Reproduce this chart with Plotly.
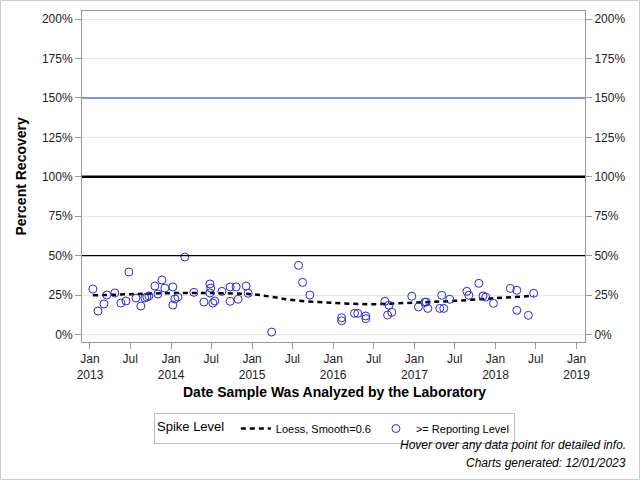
import plotly.graph_objects as go

# ---- data ----
sample_dates = [
    "2013-01-14", "2013-02-06", "2013-03-05", "2013-03-18", "2013-04-23", "2013-05-20",
    "2013-06-12", "2013-06-25", "2013-07-27", "2013-08-18", "2013-09-05", "2013-09-14",
    "2013-09-23", "2013-10-20", "2013-11-03", "2013-11-21", "2013-12-04", "2014-01-09",
    "2014-01-09", "2014-01-18", "2014-02-01", "2014-03-04", "2014-04-14", "2014-05-29",
    "2014-06-25", "2014-06-29", "2014-06-25", "2014-07-08", "2014-07-17", "2014-08-18",
    "2014-09-24", "2014-09-24", "2014-10-21", "2014-10-30", "2014-12-05", "2014-12-14",
    "2015-03-30", "2015-07-29", "2015-08-16", "2015-09-18", "2016-02-08", "2016-02-08",
    "2016-04-06", "2016-04-21", "2016-05-27", "2016-05-27", "2016-08-21", "2016-09-08",
    "2016-09-02", "2016-09-21", "2016-12-20", "2017-01-19", "2017-02-17", "2017-02-23",
    "2017-03-02", "2017-04-25", "2017-05-13", "2017-05-04", "2017-06-09", "2017-08-25",
    "2017-09-03", "2017-10-18", "2017-11-06", "2017-11-18", "2017-12-23", "2018-03-09",
    "2018-04-07", "2018-04-07", "2018-05-29", "2018-06-22",
]
recovery_pct = [
    28.8, 14.8, 19.3, 25.0, 26.3, 19.9,
    21.2, 39.6, 23.1, 18.0, 23.1, 23.7,
    24.4, 30.7, 25.6, 34.5, 29.4, 30.1,
    18.6, 22.5, 23.7, 49.1, 26.7, 20.5,
    32.0, 29.4, 26.3, 19.9, 21.2, 27.3,
    30.1, 21.0, 30.1, 22.3, 30.7, 26.1,
    1.5, 43.8, 33.0, 25.0, 10.6, 8.7,
    13.4, 13.4, 11.7, 10.0, 21.0, 18.5,
    12.3, 14.0, 24.2, 17.4, 20.4, 20.5,
    16.5, 16.5, 16.5, 24.8, 22.3, 27.3,
    24.8, 32.4, 24.4, 23.7, 19.7, 29.2,
    28.0, 15.3, 12.1, 26.1,
]
loess_dates = ["2013-01-14", "2013-07-01", "2014-01-01", "2014-07-01", "2015-01-01",
               "2015-04-01", "2015-07-01", "2016-01-01", "2016-07-01", "2017-01-01",
               "2017-07-01", "2018-01-01", "2018-06-22"]
loess_pct = [24.8, 25.5, 26.2, 26.2, 25.5, 23.8, 21.8, 20.0, 19.2, 20.2, 21.3, 23.0, 24.5]

ref_levels = [150, 100, 50]
ref_colors = ["#6F6FC8", "#000000", "#000000"]
ref_widths = [1.5, 2.5, 1.2]

x_tickvals = ["2013-01-01", "2013-07-01", "2014-01-01", "2014-07-01", "2015-01-01",
              "2015-07-01", "2016-01-01", "2016-07-01", "2017-01-01", "2017-07-01",
              "2018-01-01", "2018-07-01", "2019-01-01"]
x_ticktext = ["Jan<br>2013", "Jul", "Jan<br>2014", "Jul", "Jan<br>2015", "Jul",
              "Jan<br>2016", "Jul", "Jan<br>2017", "Jul", "Jan<br>2018", "Jul", "Jan<br>2019"]
y_tickvals = [0, 25, 50, 75, 100, 125, 150, 175, 200]
y_ticktext = [f"{v}%" for v in y_tickvals]

FONT = "Liberation Sans, Arial, sans-serif"
MARK = "#2B2BCC"
YR = [-4.8, 205.1]

fig = go.Figure()
fig.add_trace(go.Scatter(
    x=loess_dates, y=loess_pct, mode="lines", name="Loess, Smooth=0.6",
    line=dict(color="black", width=2.5, dash="5px,4px", shape="spline"),
))
fig.add_trace(go.Scatter(
    x=sample_dates, y=recovery_pct, mode="markers", name=">= Reporting Level",
    marker=dict(symbol="circle-open", size=8, color=MARK, line=dict(width=1, color=MARK)),
))
# invisible trace to display right axis
fig.add_trace(go.Scatter(x=[sample_dates[0]], y=[recovery_pct[0]], yaxis="y2",
                         mode="markers", marker=dict(opacity=0), showlegend=False,
                         hoverinfo="skip"))

for lv, c, w in zip(ref_levels, ref_colors, ref_widths):
    fig.add_shape(type="line", xref="paper", x0=0, x1=1, yref="y", y0=lv, y1=lv,
                  line=dict(color=c, width=w), layer="above")

# outer border
fig.add_shape(type="rect", xref="paper", yref="paper",
              x0=-81.5 / 503, x1=(639.5 - 82) / 503, y0=-(479.5 - 342) / 331, y1=(342 - 0.5) / 331,
              line=dict(color="#CCCCCC", width=1), fillcolor="rgba(0,0,0,0)")

yaxis_common = dict(
    range=YR, tickvals=y_tickvals, ticktext=y_ticktext, showgrid=True,
    gridcolor="#E6E6E6", zeroline=False, ticks="outside", ticklen=6, tickcolor="#999999",
    showline=True, linecolor="#999999", linewidth=1,
    tickfont=dict(family=FONT, size=12, color="#222222"),
)

fig.update_layout(
    width=640, height=480,
    margin=dict(l=82, r=55, t=11, b=138),
    paper_bgcolor="white", plot_bgcolor="white",
    font=dict(family=FONT, size=12, color="black"),
    xaxis=dict(
        type="date", range=["2012-11-26", "2019-02-08"],
        tickvals=x_tickvals, ticktext=x_ticktext, showgrid=False, zeroline=False,
        ticks="outside", ticklen=6, tickcolor="#999999",
        showline=True, linecolor="#999999", linewidth=1, mirror=True,
        tickfont=dict(family=FONT, size=12, color="#222222"),
    ),
    yaxis=dict(**yaxis_common),
    yaxis2=dict(**yaxis_common, overlaying="y", side="right"),
    showlegend=True,
    legend=dict(
        orientation="h", x=(154 - 82) / 503, xanchor="left", y=(342 - 413) / 331, yanchor="top",
        bordercolor="#BBBBBB", borderwidth=1, bgcolor="white",
        font=dict(family=FONT, size=11, color="black"),
        title=dict(text="Spike Level ", font=dict(family=FONT, size=13, color="black")),
        itemwidth=30, tracegroupgap=0,
    ),
    annotations=[
        dict(text="<b>Percent Recovery</b>", xref="paper", yref="paper",
             x=-62 / 503, y=0.5, textangle=-90, showarrow=False,
             font=dict(family=FONT, size=14, color="black"), xanchor="center", yanchor="middle"),
        dict(text="<b>Date Sample Was Analyzed by the Laboratory</b>", xref="paper", yref="paper",
             x=(334 - 82) / 503, y=(342 - 392) / 331, showarrow=False,
             font=dict(family=FONT, size=14, color="black"), xanchor="center", yanchor="middle"),
        dict(text="<i>Hover over any data point for detailed info.</i>", xref="paper", yref="paper",
             x=(628 - 82) / 503, y=(342 - 445) / 331, showarrow=False, xanchor="right",
             yanchor="middle", font=dict(family=FONT, size=12, color="black")),
        dict(text="<i>Charts generated: 12/01/2023</i>", xref="paper", yref="paper",
             x=(628 - 82) / 503, y=(342 - 463) / 331, showarrow=False, xanchor="right",
             yanchor="middle", font=dict(family=FONT, size=12, color="black")),
    ],
)

fig.write_html("out.html", config={"displayModeBar": False},
               post_script="document.body.style.margin='0';document.body.style.overflow='hidden';")
